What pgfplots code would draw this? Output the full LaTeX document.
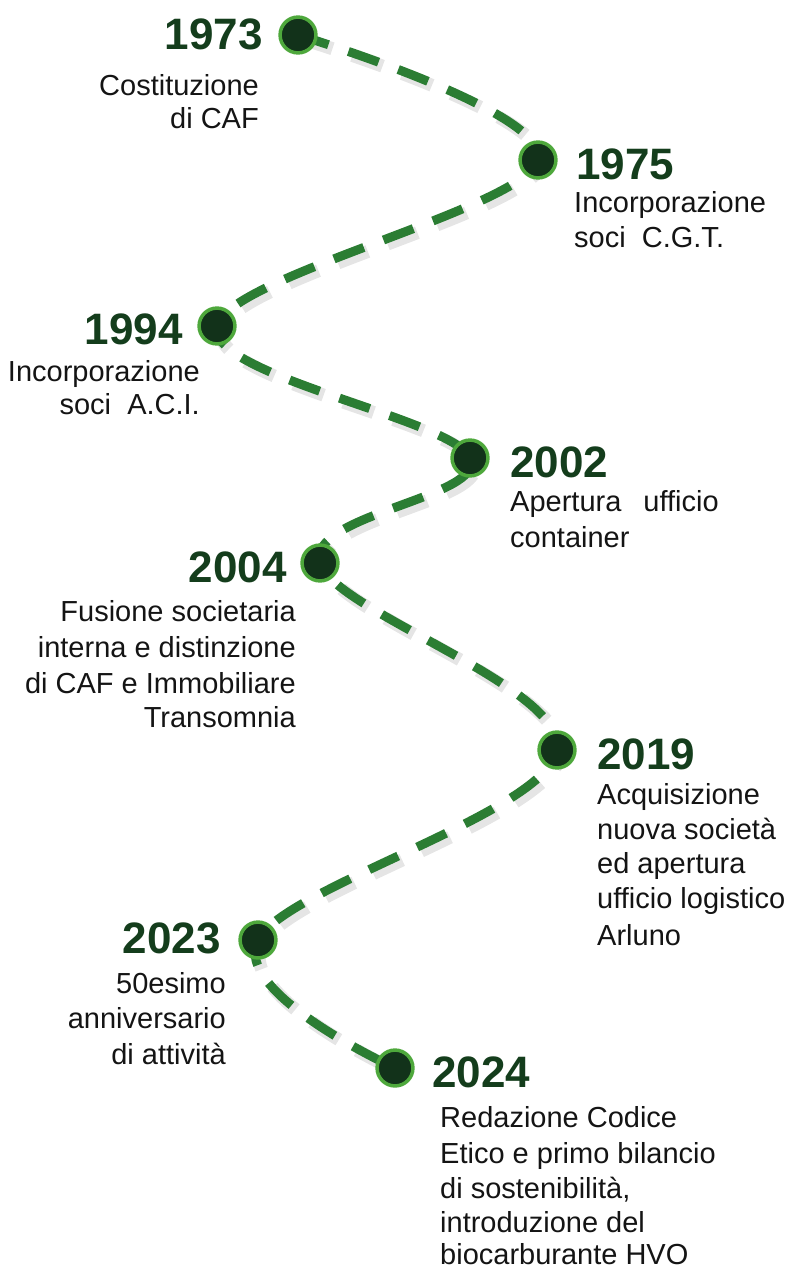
\documentclass[border=0pt]{standalone}
\usepackage{fontspec}
\setmainfont{Liberation Sans}
\usepackage{pgfplots}
\pgfplotsset{compat=1.18}
\definecolor{pathgreen}{HTML}{2B7D33}
\definecolor{ringgreen}{HTML}{4EA83C}
\definecolor{dotfill}{HTML}{12321A}
\definecolor{yeargreen}{HTML}{143D1C}
\newcommand{\yearfont}{\fontsize{44bp}{44bp}\selectfont\bfseries\color{yeargreen}}
\newcommand{\descfont}{\fontsize{29bp}{35bp}\selectfont\color{black!92}}
\begin{document}
\begin{tikzpicture}
\begin{axis}[
  scale only axis,
  width=792bp, height=1270bp,
  xmin=0, xmax=792, ymin=0, ymax=1270,
  y dir=reverse,
  hide axis,
  clip=false,
]
\coordinate (tl) at (rel axis cs:0,0);
\coordinate (br) at (rel axis cs:1,1);
% shadow of the path
\addplot[black, opacity=0.1, line width=13bp, dash pattern=on 32bp off 21bp,
  smooth, tension=0.6, no markers, xshift=4bp, yshift=-4bp] coordinates {
  (298,35) (538,160) (217,326) (470,458) (320,563) (557,750) (258,940) (395,1068)
};
% dashed path
\addplot[pathgreen, line width=9bp, dash pattern=on 32bp off 21bp,
  smooth, tension=0.6, no markers] coordinates {
  (298,35) (538,160) (217,326) (470,458) (320,563) (557,750) (258,940) (395,1068)
};
% milestones
\addplot[only marks, mark=*, mark size=18pt,
  mark options={fill=dotfill, draw=ringgreen, line width=3.5bp}] coordinates {
  (298,35) (538,160) (217,326) (470,458) (320,563) (557,750) (258,940) (395,1068)
};

% 1973
\node[anchor=base east, inner sep=0, font=\yearfont] at (axis cs:263,50) {1973};
\node[anchor=base east, inner sep=0, font=\descfont] at (axis cs:259,96) {Costituzione};
\node[anchor=base east, inner sep=0, font=\descfont] at (axis cs:259,129) {di CAF};
% 1975
\node[anchor=base west, inner sep=0, font=\yearfont] at (axis cs:576,180) {1975};
\node[anchor=base west, inner sep=0, font=\descfont] at (axis cs:574,213) {Incorporazione};
\node[anchor=base west, inner sep=0, font=\descfont] at (axis cs:574,248) {soci\ \ C.G.T.};
% 1994
\node[anchor=base east, inner sep=0, font=\yearfont] at (axis cs:183,344) {1994};
\node[anchor=base east, inner sep=0, font=\descfont] at (axis cs:200,381) {Incorporazione};
\node[anchor=base east, inner sep=0, font=\descfont] at (axis cs:200,414) {soci\ \ A.C.I.};
% 2002
\node[anchor=base west, inner sep=0, font=\yearfont] at (axis cs:510,477) {2002};
\node[anchor=base west, inner sep=0, font=\descfont] at (axis cs:510,511) {Apertura\hspace{22bp}ufficio};
\node[anchor=base west, inner sep=0, font=\descfont] at (axis cs:510,547) {container};
% 2004
\node[anchor=base east, inner sep=0, font=\yearfont] at (axis cs:287,582) {2004};
\node[anchor=base east, inner sep=0, font=\descfont] at (axis cs:296,621) {Fusione societaria};
\node[anchor=base east, inner sep=0, font=\descfont] at (axis cs:296,657) {interna e distinzione};
\node[anchor=base east, inner sep=0, font=\descfont] at (axis cs:296,693) {di CAF e Immobiliare};
\node[anchor=base east, inner sep=0, font=\descfont] at (axis cs:296,727) {Transomnia};
% 2019
\node[anchor=base west, inner sep=0, font=\yearfont] at (axis cs:597,769) {2019};
\node[anchor=base west, inner sep=0, font=\descfont] at (axis cs:597,804) {Acquisizione};
\node[anchor=base west, inner sep=0, font=\descfont] at (axis cs:597,839) {nuova società};
\node[anchor=base west, inner sep=0, font=\descfont] at (axis cs:597,873) {ed apertura};
\node[anchor=base west, inner sep=0, font=\descfont] at (axis cs:597,908) {ufficio logistico};
\node[anchor=base west, inner sep=0, font=\descfont] at (axis cs:597,945) {Arluno};
% 2023
\node[anchor=base east, inner sep=0, font=\yearfont] at (axis cs:221,953) {2023};
\node[anchor=base east, inner sep=0, font=\descfont] at (axis cs:226,993) {50esimo};
\node[anchor=base east, inner sep=0, font=\descfont] at (axis cs:226,1028) {anniversario};
\node[anchor=base east, inner sep=0, font=\descfont] at (axis cs:226,1064) {di attività};
% 2024
\node[anchor=base west, inner sep=0, font=\yearfont] at (axis cs:432,1087) {2024};
\node[anchor=base west, inner sep=0, font=\descfont] at (axis cs:440,1127) {Redazione Codice};
\node[anchor=base west, inner sep=0, font=\descfont] at (axis cs:440,1163) {Etico e primo bilancio};
\node[anchor=base west, inner sep=0, font=\descfont] at (axis cs:440,1198) {di sostenibilità,};
\node[anchor=base west, inner sep=0, font=\descfont] at (axis cs:440,1232) {introduzione del};
\node[anchor=base west, inner sep=0, font=\descfont] at (axis cs:440,1264) {biocarburante HVO};
\end{axis}
\pgfresetboundingbox
\path[use as bounding box] (tl) rectangle (br);
\end{tikzpicture}
\end{document}
